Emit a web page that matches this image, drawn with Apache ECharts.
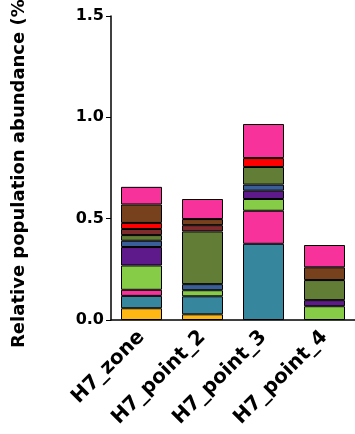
<!DOCTYPE html>
<html><head><meta charset="utf-8">
<script src="https://cdn.jsdelivr.net/npm/echarts@6/dist/echarts.min.js"></script>
<style>html,body{margin:0;padding:0;background:#fff}#c{width:355px;height:434px}</style>
</head><body><div id="c"></div>
<script>
const categories = ['H7_zone', 'H7_point_2', 'H7_point_3', 'H7_point_4'];
const yTicks = [0, 0.5, 1.0, 1.5];
const yTitle = 'Relative population abundance (%)';
const seriesNames = ['Group 1','Group 2','Group 3','Group 4','Group 5','Group 6','Group 7','Group 8','Group 9','Group 10','Group 11'];
const seriesColors = ['#FDB614','#36869E','#F7339B','#86CC46','#5E1A8A','#3A5E97','#627D36','#7E2B2E','#FF0000','#78411E','#F7339B'];
const s1 = [0.058, 0.028, null, null];
const s2 = [0.061, 0.089, 0.376, null];
const s3 = [0.030, null, 0.163, null];
const s4 = [0.120, 0.030, 0.058, 0.068];
const s5 = [0.091, null, 0.041, 0.030];
const s6 = [0.031, 0.030, 0.030, null];
const s7 = [0.028, 0.260, 0.087, 0.099];
const s8 = [0.030, 0.031, null, null];
const s9 = [0.030, null, 0.044, null];
const s10 = [0.091, 0.030, null, 0.063];
const s11 = [0.087, 0.099, 0.168, 0.110];
const seriesData = [s1,s2,s3,s4,s5,s6,s7,s8,s9,s10,s11];

const font = '"DejaVu Sans", sans-serif';
const chart = echarts.init(document.getElementById('c'), null, {renderer:'canvas'});
chart.setOption({
  animation: false,
  grid: {left: 111, right: 0, top: 16, bottom: 114, containLabel: false},
  xAxis: {
    type: 'category', data: categories,
    axisLine: {lineStyle: {color: '#000', width: 1.5}},
    axisTick: {alignWithLabel: true, length: 6, lineStyle: {color: '#777', width: 1}},
    axisLabel: {rotate: 45, color: '#000', fontWeight: 'bold', fontSize: 20, fontFamily: font, margin: 14, interval: 0}
  },
  yAxis: {
    type: 'value', min: yTicks[0], max: yTicks[yTicks.length-1], interval: 0.5,
    axisLine: {show: true, lineStyle: {color: '#000', width: 1.5}},
    axisTick: {show: true, length: 5, lineStyle: {color: '#000', width: 1}},
    splitLine: {show: false},
    axisLabel: {color: '#000', fontWeight: 'bold', fontSize: 16, fontFamily: font, margin: 7,
      formatter: v => v.toFixed(1)}
  },
  graphic: [{
    type: 'text', z: 10,
    x: 19, y: 348, rotation: Math.PI/2,
    style: {text: yTitle, fill: '#000', font: 'bold 18px ' + font, textAlign: 'left', textVerticalAlign: 'middle'}
  }],
  series: seriesData.map((d, i) => ({
    name: seriesNames[i], type: 'bar', stack: 'total', data: d, barWidth: 41,
    itemStyle: {color: seriesColors[i], borderColor: '#000', borderWidth: 1}
  }))
});
</script>
</body></html>
